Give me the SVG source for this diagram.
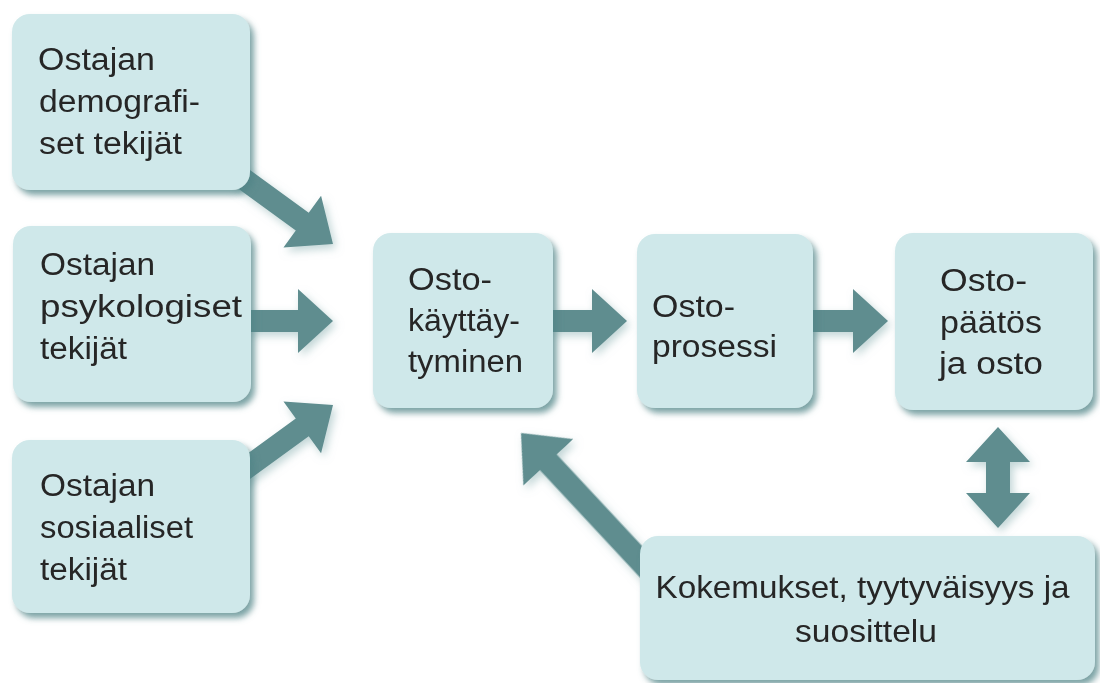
<svg xmlns="http://www.w3.org/2000/svg" width="1100" height="683" viewBox="0 0 1100 683">
  <style>
    .box { fill: #cfe8ea; filter: url(#boxShadow); }
    .lbl { font-family: "Liberation Sans", Arial, sans-serif; font-size: 31px; fill: #262626; }
    .lbl7 { font-family: "Liberation Sans", Arial, sans-serif; font-size: 32px; fill: #262626; text-anchor: middle; }
    .arr { fill: #5e8d8f; }
  </style>
  <defs>
    <filter id="boxShadow" x="-10%" y="-10%" width="125%" height="130%">
      <feDropShadow dx="4" dy="5" stdDeviation="3" flood-color="#4f8486" flood-opacity="0.75"/>
    </filter>
    <filter id="arrShadow" x="-20%" y="-20%" width="150%" height="150%">
      <feDropShadow dx="3" dy="4" stdDeviation="4" flood-color="#8fb3b4" flood-opacity="0.55"/>
    </filter>
  </defs>
  <rect width="1100" height="683" fill="#ffffff"/>

  <g id="connectors" filter="url(#arrShadow)">
    <polygon class="arr" transform="translate(333 244) rotate(36)" points="-120,-11 -38,-11 -38,-32 0,0 -38,32 -38,11 -120,11"/>
    <polygon class="arr" transform="translate(333 321)" points="-85,-11 -35,-11 -35,-32 0,0 -35,32 -35,11 -85,11"/>
    <polygon class="arr" transform="translate(333 405) rotate(-36)" points="-120,-11 -38,-11 -38,-32 0,0 -38,32 -38,11 -120,11"/>
    <polygon class="arr" transform="translate(627 321)" points="-76,-11 -35,-11 -35,-32 0,0 -35,32 -35,11 -76,11"/>
    <polygon class="arr" transform="translate(888 321)" points="-77,-11 -35,-11 -35,-32 0,0 -35,32 -35,11 -77,11"/>
    <polygon class="arr" transform="translate(521 433) rotate(227)" points="-190,-11.5 -40,-11.5 -40,-34 0,0 -40,34 -40,11.5 -190,11.5"/>
    <polygon class="arr" points="998,427 1030,462 1010,462 1010,493 1030,493 998,528 966,493 986,493 986,462 966,462"/>
  </g>

  <g id="n1">
    <rect class="box" x="12" y="14" width="238" height="176" rx="18"/>
    <text class="lbl">
      <tspan x="38" y="70" textLength="117" lengthAdjust="spacingAndGlyphs">Ostajan</tspan>
      <tspan x="39" y="112" textLength="161" lengthAdjust="spacingAndGlyphs">demografi-</tspan>
      <tspan x="39" y="154" textLength="143" lengthAdjust="spacingAndGlyphs">set tekijät</tspan>
    </text>
  </g>
  <g id="n2">
    <rect class="box" x="13" y="226" width="238" height="176" rx="18"/>
    <text class="lbl">
      <tspan x="40" y="275" textLength="115" lengthAdjust="spacingAndGlyphs">Ostajan</tspan>
      <tspan x="40" y="317" textLength="202" lengthAdjust="spacingAndGlyphs">psykologiset</tspan>
      <tspan x="40" y="359" textLength="87" lengthAdjust="spacingAndGlyphs">tekijät</tspan>
    </text>
  </g>
  <g id="n3">
    <rect class="box" x="12" y="440" width="238" height="173" rx="18"/>
    <text class="lbl">
      <tspan x="40" y="496" textLength="115" lengthAdjust="spacingAndGlyphs">Ostajan</tspan>
      <tspan x="40" y="538" textLength="153" lengthAdjust="spacingAndGlyphs">sosiaaliset</tspan>
      <tspan x="40" y="580" textLength="87" lengthAdjust="spacingAndGlyphs">tekijät</tspan>
    </text>
  </g>
  <g id="n4">
    <rect class="box" x="373" y="233" width="180" height="175" rx="18"/>
    <text class="lbl">
      <tspan x="408" y="290" textLength="84" lengthAdjust="spacingAndGlyphs">Osto-</tspan>
      <tspan x="408" y="331" textLength="112" lengthAdjust="spacingAndGlyphs">käyttäy-</tspan>
      <tspan x="408" y="372" textLength="115" lengthAdjust="spacingAndGlyphs">tyminen</tspan>
    </text>
  </g>
  <g id="n5">
    <rect class="box" x="637" y="234" width="176" height="174" rx="18"/>
    <text class="lbl">
      <tspan x="652" y="317" textLength="83" lengthAdjust="spacingAndGlyphs">Osto-</tspan>
      <tspan x="652" y="357" textLength="125" lengthAdjust="spacingAndGlyphs">prosessi</tspan>
    </text>
  </g>
  <g id="n6">
    <rect class="box" x="895" y="233" width="198" height="177" rx="18"/>
    <text class="lbl">
      <tspan x="940" y="291" textLength="87" lengthAdjust="spacingAndGlyphs">Osto-</tspan>
      <tspan x="940" y="333" textLength="102" lengthAdjust="spacingAndGlyphs">päätös</tspan>
      <tspan x="939" y="374" textLength="104" lengthAdjust="spacingAndGlyphs">ja osto</tspan>
    </text>
  </g>
  <g id="n7">
    <rect class="box" x="640" y="536" width="455" height="144" rx="18"/>
    <text class="lbl7">
      <tspan x="867" y="598" textLength="414" lengthAdjust="spacingAndGlyphs">Kokemukset, tyytyväisyys ja</tspan>
      <tspan x="866" y="642" textLength="142" lengthAdjust="spacingAndGlyphs">suosittelu</tspan>
    </text>
  </g>
</svg>
